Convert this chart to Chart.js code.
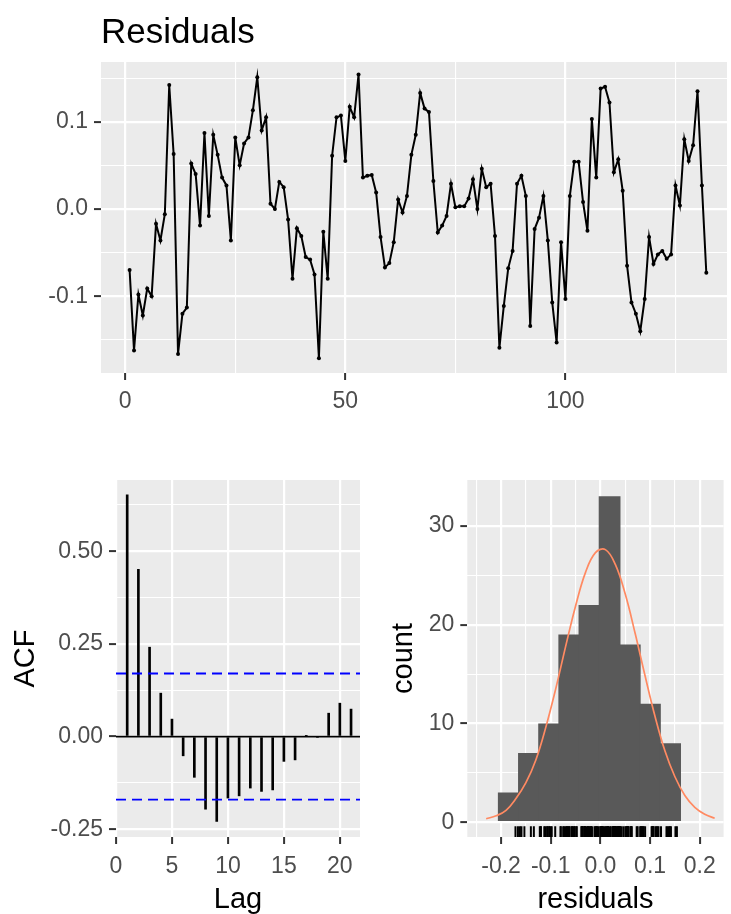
<!DOCTYPE html>
<html>
<head>
<meta charset="utf-8">
<script src="https://cdn.jsdelivr.net/npm/chart.js@4.4.1/dist/chart.umd.min.js"></script>
<style>
  html, body { margin: 0; padding: 0; background: #ffffff; width: 731px; height: 914px; overflow: hidden; }
  .box { position: absolute; }
  #b1 { left: 0; top: 0; }
  #b2 { left: 0; top: 460px; }
  #b3 { left: 380px; top: 460px; }
</style>
</head>
<body>
<div class="box" id="b1"><canvas id="c1" width="731" height="440"></canvas></div>
<div class="box" id="b2"><canvas id="c2" width="370" height="454"></canvas></div>
<div class="box" id="b3"><canvas id="c3" width="351" height="454"></canvas></div>
<script>
// ---------------- data ----------------
const residuals = [
  -0.070,-0.162,-0.098,-0.122,-0.091,-0.100,-0.017,-0.036,-0.006,0.142,
  0.063,-0.166,-0.120,-0.113,0.052,0.040,-0.019,0.087,-0.008,0.085,
  0.062,0.036,0.027,-0.036,0.082,0.050,0.075,0.082,0.113,0.151,
  0.090,0.105,0.006,0.000,0.031,0.025,-0.012,-0.080,-0.022,-0.031,
  -0.055,-0.058,-0.075,-0.171,-0.026,-0.080,0.061,0.105,0.107,0.055,
  0.117,0.105,0.154,0.036,0.038,0.039,0.019,-0.032,-0.067,-0.062,
  -0.038,0.011,-0.004,0.015,0.062,0.085,0.133,0.115,0.111,0.032,
  -0.027,-0.019,-0.008,0.029,0.002,0.003,0.003,0.012,0.034,0.000,
  0.046,0.025,0.029,-0.031,-0.159,-0.111,-0.068,-0.048,0.029,0.038,
  0.015,-0.134,-0.023,-0.010,0.015,-0.036,-0.107,-0.153,-0.038,-0.103,
  0.015,0.054,0.054,0.008,-0.025,0.103,0.036,0.138,0.140,0.122,
  0.042,0.057,0.021,-0.065,-0.107,-0.120,-0.140,-0.103,-0.032,-0.063,
  -0.052,-0.048,-0.057,-0.052,0.027,0.004,0.080,0.055,0.073,0.135,
  0.027,-0.073
];
const timeIdx = residuals.map((_, i) => i + 1);

const resXTicks = [0, 50, 100];
const resXLabels = ['0', '50', '100'];
const resXMinor = [25, 75, 125];
const resYTicks = [-0.1, 0, 0.1];
const resYLabels = ['-0.1', '0.0', '0.1'];
const resYMinor = [-0.15, -0.05, 0.05, 0.15];

const acfLags = [1, 2, 3, 4, 5, 6, 7, 8, 9, 10, 11, 12, 13, 14, 15, 16, 17, 18, 19, 20, 21];
const acfValues = [0.652, 0.451, 0.241, 0.117, 0.047, -0.052, -0.110, -0.196, -0.229, -0.166,
                   -0.160, -0.139, -0.148, -0.144, -0.067, -0.063, 0.002, -0.003, 0.063, 0.090, 0.074];
const acfCI = 0.17;
const acfXTicks = [0, 5, 10, 15, 20];
const acfXLabels = ['0', '5', '10', '15', '20'];
const acfYTicks = [-0.25, 0, 0.25, 0.5];
const acfYLabels = ['-0.25', '0.00', '0.25', '0.50'];
const acfYMinor = [-0.125, 0.125, 0.375, 0.625];

const binCenters = [-0.1845, -0.1439, -0.1033, -0.0627, -0.0221, 0.0185, 0.0591, 0.0997, 0.1403];
const binCounts = [3, 7, 10, 19, 22, 33, 18, 12, 8];
const curveX = [-0.23, -0.21, -0.19, -0.17, -0.15, -0.13, -0.11, -0.09, -0.07, -0.05, -0.03, -0.01,
                0.01, 0.03, 0.05, 0.07, 0.09, 0.11, 0.13, 0.15, 0.17, 0.19, 0.21, 0.23];
const curveY = [0.35, 0.65, 1.2, 2.4, 4.0, 6.3, 9.6, 13.5, 17.8, 21.9, 25.3, 27.3,
                27.6, 26.1, 23.1, 19.1, 14.8, 10.7, 7.2, 4.6, 2.7, 1.5, 0.8, 0.4];
const histXTicks = [-0.2, -0.1, 0, 0.1, 0.2];
const histXLabels = ['-0.2', '-0.1', '0.0', '0.1', '0.2'];
const histXMinor = [-0.25, -0.15, -0.05, 0.05, 0.15];
const histYTicks = [0, 10, 20, 30];
const histYLabels = ['0', '10', '20', '30'];
const histYMinor = [5, 15, 25];

// ---------------- helpers ----------------
const FONT = "'Liberation Sans', Arial, Helvetica, sans-serif";
Chart.defaults.font.family = FONT;

function makeAxis(o) {
  const all = o.major.concat(o.minor || []).sort((a, b) => a - b)
    .filter(v => v >= o.min - 1e-9 && v <= o.max + 1e-9);
  const isMajor = v => o.major.some(m => Math.abs(m - v) < 1e-9);
  const lab = v => { const i = o.major.findIndex(m => Math.abs(m - v) < 1e-9); return i < 0 ? '' : o.labels[i]; };
  return {
    type: 'linear', min: o.min, max: o.max, offset: false,
    afterBuildTicks: s => { s.ticks = all.map(v => ({ value: v })); },
    afterFit: s => { if (o.width != null) s.width = o.width; if (o.height != null) s.height = o.height; },
    border: { display: false },
    grid: {
      offset: false, drawOnChartArea: true, drawTicks: true, tickLength: 7,
      color: '#FFFFFF',
      lineWidth: c => (c.tick && isMajor(c.tick.value)) ? 2.2 : 1.1,
      tickColor: c => (c.tick && isMajor(c.tick.value)) ? '#333333' : 'rgba(0,0,0,0)',
      tickWidth: 2
    },
    ticks: {
      autoSkip: false, maxRotation: 0, minRotation: 0, padding: o.pad,
      color: '#4D4D4D', font: { family: FONT, size: 23, lineHeight: 1.2 },
      callback: v => lab(v)
    },
    title: o.title ? {
      display: true, text: o.title, color: '#000000',
      font: { family: FONT, size: 29, lineHeight: 1 }, padding: o.titlePad
    } : { display: false }
  };
}

const panelBg = {
  id: 'panelBg',
  beforeDraw(chart) {
    const a = chart.chartArea, ctx = chart.ctx;
    ctx.save();
    ctx.fillStyle = '#EBEBEB';
    ctx.fillRect(a.left, a.top, a.right - a.left, a.bottom - a.top);
    ctx.restore();
  }
};

const hLines = {
  id: 'hLines',
  afterDatasetsDraw(chart, args, opts) {
    const lines = opts.lines || [];
    if (!lines.length) return;
    const a = chart.chartArea, ctx = chart.ctx, ys = chart.scales.y;
    ctx.save();
    lines.forEach(l => {
      const y = ys.getPixelForValue(l.value);
      ctx.beginPath();
      ctx.strokeStyle = l.color;
      ctx.lineWidth = l.width;
      ctx.setLineDash(l.dash || []);
      ctx.moveTo(a.left, y);
      ctx.lineTo(a.right, y);
      ctx.stroke();
    });
    ctx.restore();
  }
};

const common = {
  responsive: false, animation: false, devicePixelRatio: 1,
  events: []
};

// ---------------- chart 1: residual series ----------------
new Chart(document.getElementById('c1'), {
  type: 'line',
  data: {
    datasets: [{
      data: residuals.map((v, i) => ({ x: timeIdx[i], y: v })),
      borderColor: '#000000', borderWidth: 2, tension: 0,
      pointRadius: 2, pointBackgroundColor: '#000000', pointBorderWidth: 0
    }]
  },
  options: Object.assign({}, common, {
    layout: { padding: { top: 0, left: 0, right: 0, bottom: 0 } },
    plugins: {
      legend: { display: false }, tooltip: { enabled: false },
      title: {
        display: true, text: 'Residuals', align: 'start', fullSize: false,
        color: '#000000', font: { family: FONT, size: 35, weight: 'normal', lineHeight: 1.2 },
        padding: { top: 12.5, bottom: 7.5 }
      },
      hLines: { lines: [] }
    },
    scales: {
      x: makeAxis({ min: -5.5, max: 136.7, major: resXTicks, labels: resXLabels, minor: resXMinor, height: 67, pad: 8 }),
      y: makeAxis({ min: -0.1879, max: 0.1684, major: resYTicks, labels: resYLabels, minor: resYMinor, width: 101, pad: 6 })
    }
  }),
  plugins: [panelBg, hLines]
});

// ---------------- chart 2: ACF ----------------
new Chart(document.getElementById('c2'), {
  type: 'bar',
  data: {
    datasets: [{
      data: acfLags.map((l, i) => ({ x: l, y: acfValues[i] })),
      backgroundColor: '#000000', borderWidth: 0, barThickness: 2
    }]
  },
  options: Object.assign({}, common, {
    layout: { padding: { top: 20, left: 0, right: 10, bottom: 0 } },
    plugins: {
      legend: { display: false }, tooltip: { enabled: false },
      hLines: { lines: [
        { value: 0, color: '#000000', width: 1.8 },
        { value: acfCI, color: '#0000FF', width: 1.8, dash: [10, 6] },
        { value: -acfCI, color: '#0000FF', width: 1.8, dash: [10, 6] }
      ] }
    },
    scales: {
      x: makeAxis({ min: 0, max: 21.8, major: acfXTicks, labels: acfXLabels, minor: [], height: 77, pad: 9,
                    title: 'Lag', titlePad: { top: 0, bottom: 0 } }),
      y: makeAxis({ min: -0.271, max: 0.692, major: acfYTicks, labels: acfYLabels, minor: acfYMinor, width: 116, pad: 6,
                    title: 'ACF', titlePad: { top: 11.5, bottom: 0 } })
    }
  }),
  plugins: [panelBg, hLines]
});

// ---------------- chart 3: histogram ----------------
new Chart(document.getElementById('c3'), {
  type: 'bar',
  data: {
    datasets: [
      {
        type: 'line', order: 0,
        data: curveX.map((x, i) => ({ x: x, y: curveY[i] })),
        borderColor: '#FF8A62', borderWidth: 1.7, pointRadius: 0, tension: 0.4
      },
      {
        type: 'scatter', order: 1,
        data: residuals.map(v => ({ x: v, y: -0.96 })),
        pointStyle: 'line', pointRotation: 90, pointRadius: 5.4,
        pointBorderColor: '#000000', pointBorderWidth: 2, pointBackgroundColor: '#000000'
      },
      {
        type: 'bar', order: 2,
        data: binCenters.map((x, i) => ({ x: x, y: binCounts[i] })),
        backgroundColor: '#595959', borderWidth: 0,
        barPercentage: 1.08, categoryPercentage: 1, grouped: false
      }
    ]
  },
  options: Object.assign({}, common, {
    layout: { padding: { top: 20, left: 0, right: 3, bottom: 0 } },
    plugins: {
      legend: { display: false }, tooltip: { enabled: false },
      hLines: { lines: [] }
    },
    scales: {
      x: makeAxis({ min: -0.268, max: 0.248, major: histXTicks, labels: histXLabels, minor: histXMinor, height: 77, pad: 9,
                    title: 'residuals', titlePad: { top: 0, bottom: 0 } }),
      y: makeAxis({ min: -1.5, max: 34.65, major: histYTicks, labels: histYLabels, minor: histYMinor, width: 87.3, pad: 6,
                    title: 'count', titlePad: { top: 9.5, bottom: 0 } })
    }
  }),
  plugins: [panelBg, hLines]
});
</script>
</body>
</html>
